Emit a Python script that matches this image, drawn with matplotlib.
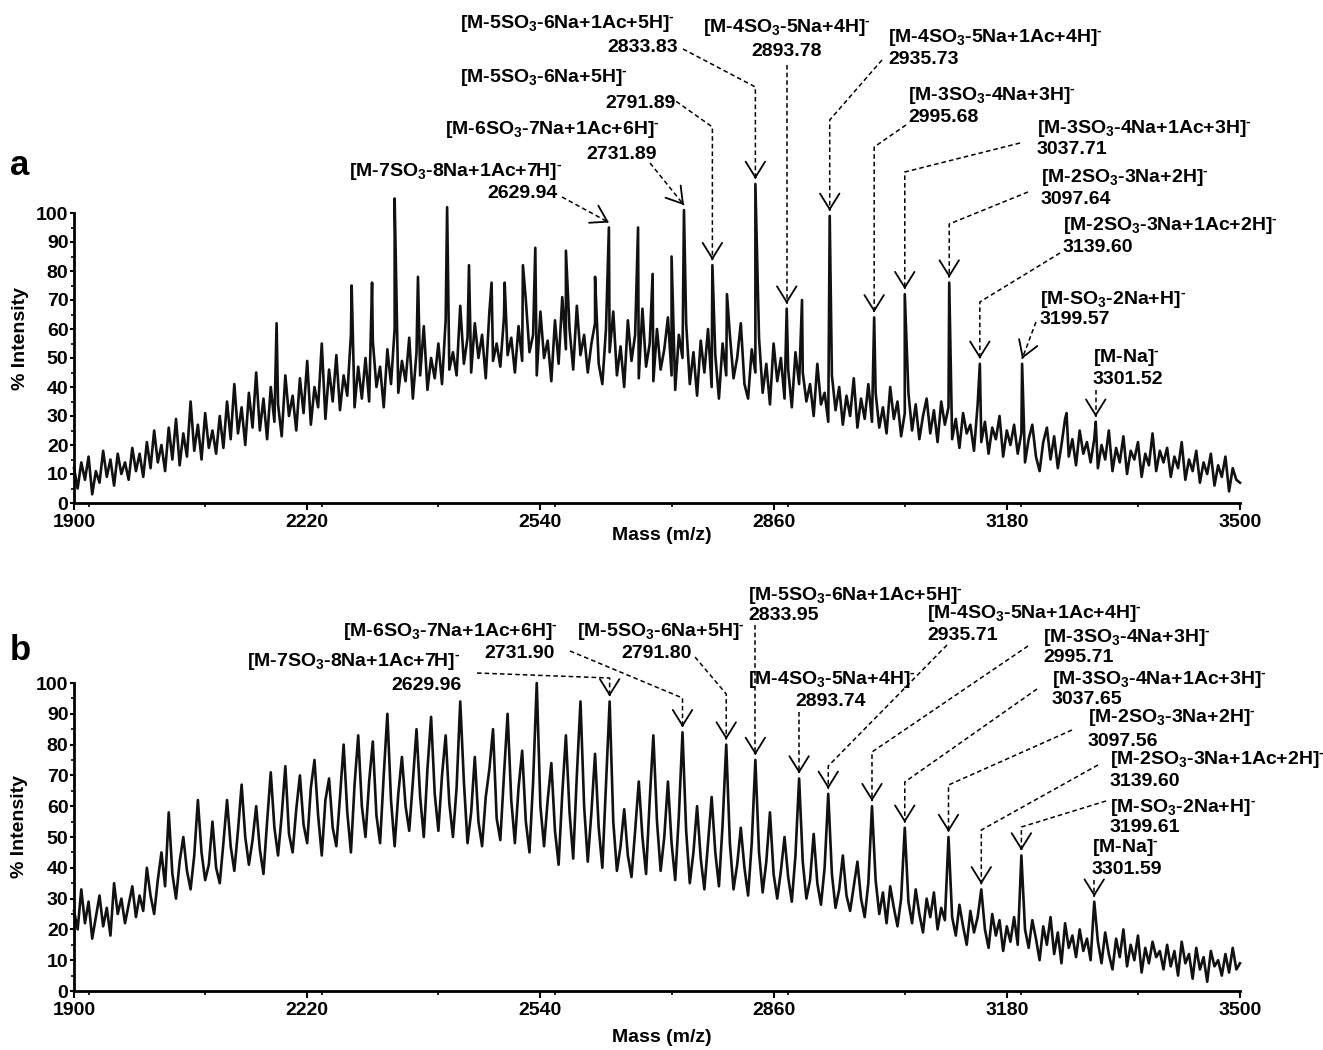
import numpy as np
import matplotlib
matplotlib.use('Agg')
import matplotlib.pyplot as plt
from matplotlib.ticker import MultipleLocator

plt.rcParams['font.family'] = ['Liberation Sans', 'DejaVu Sans']
plt.rcParams['font.weight'] = 'bold'
plt.rcParams['mathtext.fontset'] = 'custom'
plt.rcParams['mathtext.rm'] = 'Liberation Sans:bold'
plt.rcParams['mathtext.it'] = 'Liberation Sans:bold'
plt.rcParams['mathtext.bf'] = 'Liberation Sans:bold'

W, H = 1323, 1050

# ---- data -------------------------------------------------------------
mz_grid = np.arange(1900, 3501, 5)

# panel a: intensity read every 5 m/z (one line = 100 m/z)
a_intensity = [
    12, 5, 14, 8, 16, 3, 11, 7, 18, 9, 15, 6, 17, 10, 14, 8, 19, 11, 17, 9,        # 1900
    21, 12, 25, 14, 20, 11, 26, 15, 29, 13, 24, 16, 35, 18, 27, 15, 31, 19, 25, 17,  # 2000
    30, 19, 35, 22, 41, 24, 33, 20, 38, 26, 45, 25, 36, 22, 40, 28, 34, 23, 44, 30,  # 2100
    37, 25, 43, 31, 49, 27, 40, 33, 55, 29, 46, 35, 51, 32, 44, 37, 58, 33, 47, 36,  # 2200
    50, 35, 56, 40, 47, 33, 53, 41, 60, 38, 49, 42, 57, 36, 52, 44, 61, 39, 50, 43,  # 2300
    55, 41, 63, 46, 52, 44, 68, 48, 57, 45, 62, 50, 58, 43, 66, 49, 55, 47, 64, 51,  # 2400
    57, 45, 61, 49, 70, 52, 58, 44, 66, 50, 56, 42, 63, 48, 71, 53, 60, 46, 68, 51,  # 2500
    58, 45, 55, 62, 48, 41, 60, 52, 66, 44, 54, 40, 63, 49, 58, 43, 67, 47, 55, 42,  # 2600
    60, 46, 53, 64, 44, 39, 58, 50, 62, 41, 52, 37, 56, 45, 60, 40, 51, 36, 55, 44,  # 2700
    58, 43, 50, 62, 41, 36, 53, 45, 57, 38, 48, 34, 55, 42, 50, 36, 46, 33, 52, 41,  # 2800
    45, 35, 41, 30, 48, 34, 38, 28, 44, 32, 40, 27, 37, 30, 43, 26, 36, 29, 41, 28,  # 2900
    38, 26, 33, 24, 40, 29, 35, 23, 31, 38, 25, 34, 22, 30, 36, 24, 32, 21, 35, 27,  # 3000
    33, 22, 29, 19, 31, 24, 27, 18, 34, 21, 28, 17, 26, 22, 30, 16, 25, 20, 27, 17,  # 3100
    24, 14, 22, 27, 16, 11, 21, 26, 15, 23, 12, 20, 29, 16, 22, 13, 25, 17, 21, 14,  # 3200
    22, 12, 20, 15, 25, 11, 19, 14, 23, 10, 18, 15, 21, 9, 17, 13, 24, 11, 18, 14,   # 3300
    19, 9, 16, 12, 21, 8, 15, 11, 18, 7, 14, 10, 17, 6, 13, 9, 16, 4, 12, 8,         # 3400
    7,
]

# panel a: narrow spikes
a_spike_mz = [2178, 2281, 2309, 2340, 2372, 2412, 2442, 2473, 2491, 2516, 2533,
              2575, 2615, 2634, 2674, 2694, 2720, 2737, 2776, 2796, 2835, 2878,
              2899, 2937, 2998, 3040, 3101, 3143, 3201, 3262, 3302]
a_spike_int = [62, 75, 76, 105, 78, 102, 82, 76, 76, 82, 88,
               87, 78, 95, 95, 79, 85, 101, 82, 72, 110, 67,
               70, 99, 64, 72, 76, 48, 48, 31, 28]

# panel b: intensity read every 5 m/z
b_intensity = [
    26, 20, 33, 22, 29, 17, 24, 31, 21, 27, 18, 35, 25, 30, 22, 28, 34, 24, 31, 26,  # 1900
    40, 31, 25, 36, 45, 34, 58, 38, 30, 42, 50, 39, 33, 44, 62, 45, 36, 41, 55, 40,  # 2000
    35, 48, 62, 47, 39, 52, 67, 50, 41, 49, 60, 46, 38, 55, 71, 53, 44, 57, 73, 51,  # 2100
    45, 59, 70, 54, 48, 66, 75, 57, 44, 62, 69, 53, 47, 63, 80, 58, 45, 67, 83, 60,  # 2200
    50, 68, 81, 57, 48, 70, 90, 62, 47, 64, 76, 60, 52, 68, 85, 63, 50, 72, 89, 64,  # 2300
    52, 70, 83, 61, 50, 66, 94, 68, 48, 58, 76, 55, 47, 63, 72, 85, 56, 49, 70, 90,  # 2400
    62, 48, 66, 78, 55, 45, 68, 100, 60, 47, 62, 74, 52, 41, 64, 83, 58, 43, 70, 94, # 2500
    60, 42, 58, 77, 53, 40, 67, 94, 55, 39, 47, 59, 44, 37, 52, 68, 50, 38, 62, 83,  # 2600
    55, 39, 50, 68, 48, 36, 57, 84, 52, 35, 45, 60, 43, 33, 48, 63, 45, 34, 54, 80,  # 2700
    48, 33, 41, 53, 40, 31, 48, 75, 45, 32, 42, 58, 38, 30, 39, 50, 37, 29, 44, 69,  # 2800
    42, 30, 36, 51, 35, 28, 40, 64, 38, 27, 33, 44, 31, 26, 34, 42, 30, 24, 35, 60,  # 2900
    36, 25, 32, 22, 34, 27, 21, 30, 53, 29, 22, 33, 25, 19, 30, 24, 32, 20, 27, 23,  # 3000
    50, 24, 18, 28, 21, 15, 26, 19, 24, 33, 20, 14, 25, 18, 23, 13, 21, 16, 24, 15,  # 3100
    44, 20, 14, 23, 17, 10, 21, 15, 24, 12, 19, 9, 22, 14, 18, 11, 20, 13, 17, 10,   # 3200
    29, 16, 9, 19, 12, 7, 17, 11, 20, 8, 15, 10, 18, 6, 14, 9, 16, 11, 13, 7,        # 3300
    15, 8, 13, 5, 16, 9, 12, 4, 14, 7, 11, 3, 13, 8, 10, 5, 12, 6, 14, 7,            # 3400
    9,
]

ion_names = [
    r'[M-7SO$_3$-8Na+1Ac+7H]$^{\text{-}}$',
    r'[M-6SO$_3$-7Na+1Ac+6H]$^{\text{-}}$',
    r'[M-5SO$_3$-6Na+5H]$^{\text{-}}$',
    r'[M-5SO$_3$-6Na+1Ac+5H]$^{\text{-}}$',
    r'[M-4SO$_3$-5Na+4H]$^{\text{-}}$',
    r'[M-4SO$_3$-5Na+1Ac+4H]$^{\text{-}}$',
    r'[M-3SO$_3$-4Na+3H]$^{\text{-}}$',
    r'[M-3SO$_3$-4Na+1Ac+3H]$^{\text{-}}$',
    r'[M-2SO$_3$-3Na+2H]$^{\text{-}}$',
    r'[M-2SO$_3$-3Na+1Ac+2H]$^{\text{-}}$',
    r'[M-SO$_3$-2Na+H]$^{\text{-}}$',
    r'[M-Na]$^{\text{-}}$',
]
a_masses = ['2629.94', '2731.89', '2791.89', '2833.83', '2893.78', '2935.73',
            '2995.68', '3037.71', '3097.64', '3139.60', '3199.57', '3301.52']
b_masses = ['2629.96', '2731.90', '2791.80', '2833.95', '2893.74', '2935.71',
            '2995.71', '3037.65', '3097.56', '3139.60', '3199.61', '3301.59']
# m/z of the peak each arrow points at
a_label_mz = [2634, 2737, 2776, 2835, 2878, 2937, 2998, 3040, 3101, 3143, 3201, 3302]
b_label_mz = [2635, 2735, 2795, 2835, 2895, 2935, 2995, 3040, 3100, 3145, 3200, 3300]

# label layout in image pixels: name (x, y, ha), mass (x, y, ha), line start, bend y
a_layout = [
    ((349, 171, 'left'), (558, 193, 'right'), (562, 197), None),
    ((445, 130, 'left'), (657, 154, 'right'), (650, 163), None),
    ((460, 77, 'left'), (676, 104, 'right'), (670, 97), 127),
    ((460, 23, 'left'), (678, 47, 'right'), (683, 49), 87),
    ((787, 28, 'center'), (787, 52, 'center'), (787, 65), None),
    ((888, 38, 'left'), (888, 60, 'left'), (882, 60), 120),
    ((908, 95, 'left'), (908, 117, 'left'), (906, 125), 147),
    ((1037, 128, 'left'), (1037, 150, 'left'), (1020, 143), 172),
    ((1041, 178, 'left'), (1041, 200, 'left'), (1028, 192), 224),
    ((1063, 225, 'left'), (1063, 247, 'left'), (1060, 253), 302),
    ((1040, 300, 'left'), (1040, 320, 'left'), (1036, 322), None),
    ((1093, 357, 'left'), (1093, 380, 'left'), (1096, 390), None),
]
b_layout = [
    ((460, 662, 'right'), (462, 685, 'right'), (477, 673), 678),
    ((343, 632, 'left'), (555, 653, 'right'), (570, 651), 698),
    ((577, 632, 'left'), (692, 653, 'right'), (695, 657), 694),
    ((748, 595, 'left'), (748, 615, 'left'), (754, 625), None),
    ((748, 680, 'left'), (831, 702, 'center'), (799, 712), None),
    ((927, 613, 'left'), (927, 635, 'left'), (947, 645), 766),
    ((1043, 638, 'left'), (1043, 658, 'left'), (1028, 646), 752),
    ((1052, 680, 'left'), (1052, 700, 'left'), (1037, 689), 782),
    ((1088, 718, 'left'), (1088, 742, 'left'), (1072, 730), 785),
    ((1110, 760, 'left'), (1110, 782, 'left'), (1098, 765), 830),
    ((1110, 807, 'left'), (1110, 828, 'left'), (1106, 801), 827),
    ((1092, 847, 'left'), (1092, 870, 'left'), (1094, 880), None),
]

FS = 14


def setup_axes(ax):
    ax.set_xlim(1900, 3500)
    ax.set_ylim(0, 100)
    ax.set_xticks([1900, 2220, 2540, 2860, 3180, 3500])
    ax.xaxis.set_minor_locator(MultipleLocator(160))
    ax.set_yticks(range(0, 101, 10))
    ax.yaxis.set_minor_locator(MultipleLocator(5))
    for s in ['top', 'right']:
        ax.spines[s].set_visible(False)
    for s in ['left', 'bottom']:
        ax.spines[s].set_linewidth(2)
    ax.tick_params(axis='x', which='major', length=5, width=1.5, labelsize=FS, pad=3)
    ax.tick_params(axis='x', which='minor', length=3, width=1.2)
    ax.tick_params(axis='y', which='major', length=3, width=1.5, labelsize=FS, pad=1)
    ax.tick_params(axis='y', which='minor', length=2, width=1.2)


def draw_labels(ax, masses, label_mz, peak_lookup, layout):
    inv = ax.transData.inverted()
    for name, mass, mz, lay in zip(ion_names, masses, label_mz, layout):
        (nx, ny, nha), (mx, my, mha), (sx, sy), bend = lay
        fig.text(nx / W, 1 - ny / H, name, ha=nha, va='center', fontsize=FS, fontweight='bold')
        fig.text(mx / W, 1 - my / H, mass, ha=mha, va='center', fontsize=FS, fontweight='bold')
        tx, ty = ax.transData.transform((mz, peak_lookup[mz]))
        ty += 5
        start = (sx, H - sy)
        if bend is None and abs(sx - tx) < 5:
            start = (tx, H - sy)
        pts = [start]
        if bend is not None:
            pts.append((tx, H - bend))
        pts.append((tx, ty))
        pts = np.array(pts, dtype=float)
        d = inv.transform(pts)
        ax.plot(d[:, 0], d[:, 1], color='k', lw=1.1, ls=(0, (3, 2)), clip_on=False)
        u = pts[-1] - pts[-2]
        u = u / np.hypot(*u)
        back = inv.transform(pts[-1] - 2 * u)
        ax.annotate('', xy=d[-1], xytext=back, annotation_clip=False,
                    arrowprops=dict(arrowstyle='->,head_length=0.45,head_width=0.28',
                                    color='k', lw=1.3, shrinkA=0, shrinkB=0,
                                    mutation_scale=25))


fig = plt.figure(figsize=(W / 100, H / 100), dpi=100)
ax_a = fig.add_axes([74 / W, 1 - 503 / H, 1166 / W, 290 / H])
ax_b = fig.add_axes([74 / W, 1 - 991 / H, 1166 / W, 308 / H])
setup_axes(ax_a)
setup_axes(ax_b)

# panel a trace = regular readings plus narrow spikes
xa = np.concatenate([mz_grid, a_spike_mz])
ya = np.concatenate([a_intensity, a_spike_int])
order = np.argsort(xa, kind='stable')
ax_a.plot(xa[order], ya[order], color='#111111', lw=1.9, clip_on=False)
ax_b.plot(mz_grid, b_intensity, color='#111111', lw=1.9, clip_on=False)

a_lookup = dict(zip(a_spike_mz, a_spike_int))
b_lookup = dict(zip(mz_grid.tolist(), b_intensity))
draw_labels(ax_a, a_masses, a_label_mz, a_lookup, a_layout)
draw_labels(ax_b, b_masses, b_label_mz, b_lookup, b_layout)

fig.text(10 / W, 1 - 175 / H, 'a', fontsize=25, fontweight='bold', va='baseline')
fig.text(10 / W, 1 - 660 / H, 'b', fontsize=25, fontweight='bold', va='baseline')
fig.text(21 / W, 1 - 339 / H, '% Intensity', rotation=90, ha='center', va='center',
         fontsize=FS, fontweight='bold')
fig.text(20 / W, 1 - 827 / H, '% Intensity', rotation=90, ha='center', va='center',
         fontsize=FS, fontweight='bold')
fig.text(662 / W, 1 - 535 / H, 'Mass (m/z)', ha='center', va='center', fontsize=FS,
         fontweight='bold')
fig.text(662 / W, 1 - 1037 / H, 'Mass (m/z)', ha='center', va='center', fontsize=FS,
         fontweight='bold')

fig.savefig('out.png', dpi=100, facecolor='white')
